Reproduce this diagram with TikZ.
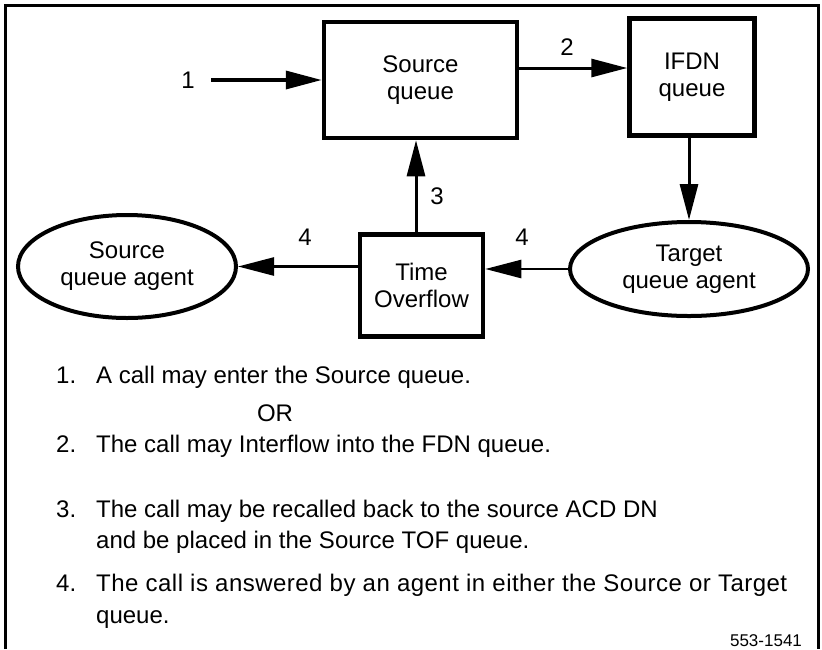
\documentclass[tikz,border=0pt]{standalone}
\usepackage{fontspec}
\setmainfont{Liberation Sans}
\usetikzlibrary{arrows.meta}
\usetikzlibrary{shapes.geometric}

\begin{document}
\begin{tikzpicture}[x=1pt,y=-1pt,
        queuebox/.style={draw,line width=4.5pt,align=center,inner sep=0pt,font=\fontsize{24}{27}\selectfont},
        agent/.style={ellipse,draw,line width=4pt,align=center,inner sep=0pt,font=\fontsize{24}{27}\selectfont},
        flow/.style={-{Triangle[length=36pt,width=18pt]},line width=3pt},
        num/.style={font=\fontsize{24}{27}\selectfont},
        note/.style={anchor=base west,inner sep=0pt,font=\fontsize{24}{28}\selectfont},
    ]
    \useasboundingbox (0,0) rectangle (822,649);
    % frame
    \draw[line width=3pt] (5,649) -- (5,5) -- (818,5) -- (818,649);
    % queues and agents
    \node[queuebox,minimum width=193pt,minimum height=116pt] (src) at (420.5,80) {Source\\queue};
    \node[queuebox,minimum width=125pt,minimum height=117pt] (ifdn) at (692,77) {IFDN\\queue};
    \node[queuebox,minimum width=123pt,minimum height=102pt] (tof) at (421.5,285.5) {Time\\Overflow};
    \node[agent,minimum width=218pt,minimum height=103pt] (sagent) at (127,266.5) {Source\\queue agent};
    \node[agent,minimum width=238pt,minimum height=94pt] (tagent) at (689,269) {Target\\queue agent};
    % 1
    \node[num] (n1) at (188,80) {1};
    \draw[flow,line width=3.5pt] ([xshift=13pt]n1.east) -- (src.west);
    % 2
    \draw[flow] ([yshift=12pt]src.east) -- ([yshift=12pt]src.east -| ifdn.west);
    \node[num] (n2) at (567,47) {2};
    % IFDN to target
    \draw[flow] (tagent.north |- ifdn.south) -- (tagent.north);
    % 3
    \draw[flow] ([xshift=-5.5pt]tof.north) -- ([xshift=-5.5pt]tof.north |- src.south);
    \node[num] (n3) at (437,196) {3};
    % 4
    \draw[flow,line width=2.5pt] (tof.west |- sagent.east) -- (sagent.east);
    \draw[flow,line width=2.5pt] (tagent.west) -- (tagent.west -| tof.east);
    \node[num] (n4a) at (305,237) {4};
    \node[num] (n4b) at (522,237) {4};
    % notes
    \node[note] (k1) at (56,383) {1.};
    \node[note] (t1) at (96,383) {A call may enter the Source queue.};
    \node[note,anchor=base] (or) at (275,421) {OR};
    \node[note] (k2) at (56,452) {2.};
    \node[note] (t2) at (96,452) {The call may Interflow into the FDN queue.};
    \node[note] (k3) at (56,517) {3.};
    \node[note] (t3) at (96,517) {The call may be recalled back to the source ACD DN};
    \node[note] (t3b) at (96,548) {and be placed in the Source TOF queue.};
    \node[note] (k4) at (56,591) {4.};
    \node[note] (t4) at (96,591) {\addfontfeature{LetterSpace=2}The call is answered by an agent in either the Source or Target};
    \node[note] (t4b) at (96,623) {queue.};
    \node[anchor=base,inner sep=0pt,font=\fontsize{17}{20}\selectfont] (fig) at (766,646) {553-1541};
\end{tikzpicture}
\end{document}
